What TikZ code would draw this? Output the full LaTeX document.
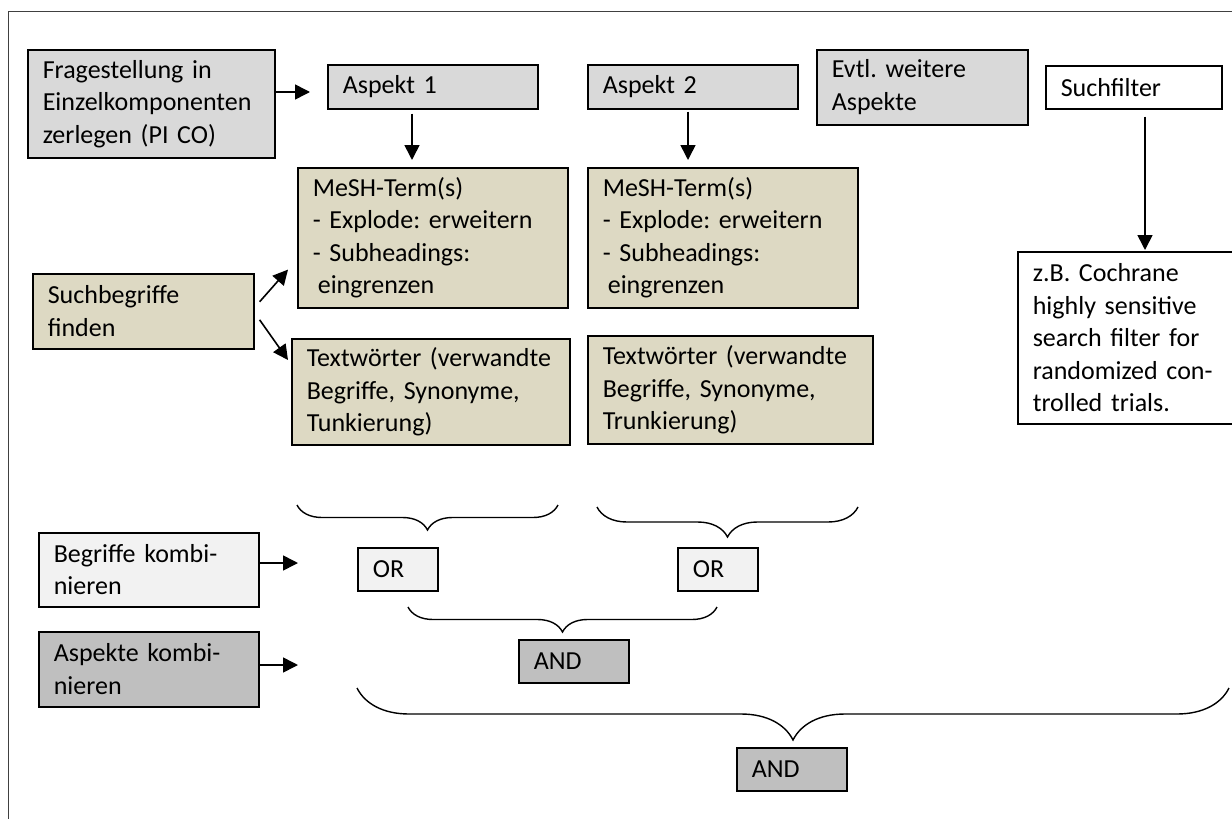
\documentclass[tikz,border=0pt]{standalone}
\usepackage{fontspec}
\setmainfont{Carlito}
\usetikzlibrary{arrows.meta,decorations.pathreplacing}
\frenchspacing

\definecolor{greyfill}{HTML}{D9D9D9}
\definecolor{tanfill}{HTML}{DDD9C3}
\definecolor{lightfill}{HTML}{F2F2F2}
\definecolor{darkfill}{HTML}{BFBFBF}

\tikzset{
  box/.style={draw=black, line width=1.6pt, anchor=north west, align=left,
    inner xsep=15pt, inner ysep=2pt, font=\fontsize{26}{32.5}\selectfont},
  greybox/.style={box, fill=greyfill},
  tanbox/.style={box, fill=tanfill},
  lightbox/.style={box, fill=lightfill},
  darkbox/.style={box, fill=darkfill},
  whitebox/.style={box, fill=white},
  arr/.style={line width=1.6pt, -{Triangle[length=15pt,width=15pt]}},
  brc/.style={line width=1.4pt, decorate, decoration={brace, amplitude=#1}},
}

\begin{document}
\begin{tikzpicture}[x=1pt, y=-1pt]
\clip (0,0) rectangle (1232,819);
\fill[white] (0,0) rectangle (1232,819);
\draw[line width=1pt, black!75] (8,830) -- (8,11) -- (1240,11);

% top row
\node[greybox, text width=217pt, minimum height=108pt] (frage) at (27,49)
  {Fragestellung in\\Einzelkomponenten\\zerlegen (PI CO)};
\node[greybox, text width=180pt, minimum height=44pt] (asp1) at (327,64) {Aspekt 1};
\node[greybox, text width=180pt, minimum height=44pt] (asp2) at (587,64) {Aspekt 2};
\node[greybox, text width=181pt, minimum height=75pt] (evtl) at (816,49)
  {Evtl. weitere\\Aspekte};
\node[whitebox, text width=146pt, minimum height=43pt] (filter) at (1045,65) {Suchfilter};
\node[whitebox, text width=193pt, minimum height=172pt] (cochrane) at (1017,251)
  {z.B. Cochrane\\highly sensitive\\search filter for\\randomized con-\\trolled trials.};

% search terms
\node[tanbox, text width=240pt, minimum height=140pt] (mesh1) at (297,167)
  {MeSH-Term(s)\\- Explode: erweitern\\- Subheadings:\\\hspace*{5pt}eingrenzen};
\node[tanbox, text width=240pt, minimum height=140pt] (mesh2) at (587,167)
  {MeSH-Term(s)\\- Explode: erweitern\\- Subheadings:\\\hspace*{5pt}eingrenzen};
\node[tanbox, text width=191pt, minimum height=75pt] (such) at (32,273)
  {Suchbegriffe\\finden};
\node[tanbox, text width=248pt, minimum height=106pt] (textw1) at (291,338)
  {Textwörter (verwandte\\Begriffe, Synonyme,\\Tunkierung)};
\node[tanbox, text width=255pt, minimum height=108pt] (textw2) at (587,335)
  {Textwörter (verwandte\\Begriffe, Synonyme,\\Trunkierung)};

% combining
\node[lightbox, text width=190pt, minimum height=74pt] (begr) at (38,532)
  {Begriffe kombi-\\nieren};
\node[lightbox, text width=50pt, minimum height=43pt] (or1) at (357,547) {OR};
\node[lightbox, text width=50pt, minimum height=43pt] (or2) at (677,547) {OR};
\node[darkbox, text width=190pt, minimum height=75pt] (aspk) at (38,631)
  {Aspekte kombi-\\nieren};
\node[darkbox, text width=80pt, minimum height=43pt] (and1) at (518,639) {AND};
\node[darkbox, text width=80pt, minimum height=43pt] (and2) at (736,747) {AND};

\coordinate (begrtip) at (298,563);
\coordinate (aspktip) at (298,665);

\draw[arr, shorten >=17pt] (frage.east |- 0,92) -- (asp1.west |- 0,92);
\draw[arr, shorten <=4pt, shorten >=7pt] (asp1.south -| 412,0) -- (mesh1.north -| 412,0);
\draw[arr, shorten <=2pt, shorten >=7pt] (asp2.south -| 688,0) -- (mesh2.north -| 688,0);
\draw[arr, shorten <=7pt, shorten >=1pt] (filter.south -| 1145,0) -- (cochrane.north -| 1145,0);
\draw[arr] ([shift={(5,-9.5)}]such.east) -- ([shift={(-9,-39)}]mesh1.south west);
\draw[arr] ([shift={(5,8.5)}]such.east) -- ([shift={(-3,22)}]textw1.north west);
\draw[arr] (begr.east |- begrtip) -- (begrtip);
\draw[arr] (aspk.east |- aspktip) -- (aspktip);

\draw[brc=25pt] (558,505) -- (297,505);
\draw[brc=30pt] (858,507) -- (597,507);
\draw[brc=25pt] (717,607) -- (408,607);
\draw[brc=52pt] (1229,688) -- (357,688);
\end{tikzpicture}
\end{document}
